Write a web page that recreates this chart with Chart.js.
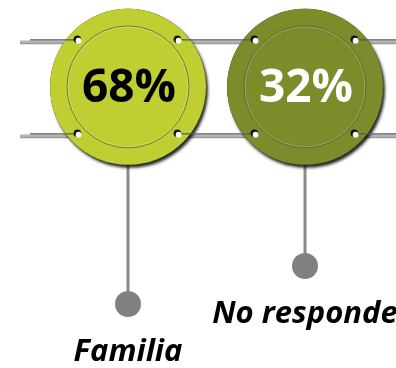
<!DOCTYPE html>
<html>
<head>
<meta charset="utf-8">
<script src="https://cdn.jsdelivr.net/npm/chart.js@4"></script>
<style>
  html, body { margin: 0; padding: 0; background: #ffffff; }
  #wrap { width: 396px; height: 368px; }
</style>
</head>
<body>
<div id="wrap"><canvas id="c" width="396" height="368"></canvas></div>
<script>
// ---- data ----
const categories = ['Familia', 'No responde'];
const percentages = [68, 32];
const valueLabels = percentages.map(v => v + '%');

// ---- style / layout (not data) ----
const fillColors = ['#bfcf31', '#7c8c2a'];
const valueTextColors = ['#000000', '#ffffff'];
const circleRow = 23.6;          // y scale units (0..100, top to bottom)
const dotRows = [82.6, 72.3];    // staggered label anchors
const R = 78, innerR = 61;
const screwDX = 50, screwDY = 47;

const infographic = {
  id: 'infographic',
  beforeDatasetsDraw(chart) {
    const ctx = chart.ctx;
    const xs = chart.scales.x, ys = chart.scales.y;
    const cy = ys.getPixelForValue(circleRow);
    const W = chart.width;
    ctx.save();
    // stems behind circles
    categories.forEach((c, i) => {
      const x = xs.getPixelForValue(i);
      const dy = ys.getPixelForValue(dotRows[i]);
      ctx.strokeStyle = '#8a8a8a';
      ctx.lineWidth = 3;
      ctx.beginPath(); ctx.moveTo(x, cy); ctx.lineTo(x, dy); ctx.stroke();
    });
    // gray rails behind circles
    [cy - screwDY, cy + screwDY].forEach(ry => {
      ctx.strokeStyle = '#b4b4b4';
      ctx.lineWidth = 1.5;
      ctx.beginPath(); ctx.moveTo(20, ry + 1.5); ctx.lineTo(W, ry + 1.5); ctx.stroke();
      ctx.strokeStyle = '#9a9a9a';
      ctx.lineWidth = 2;
      ctx.beginPath(); ctx.moveTo(20, ry + 3.5); ctx.lineTo(W, ry + 3.5); ctx.stroke();
    });
    // shadows
    categories.forEach((c, i) => {
      const x = xs.getPixelForValue(i);
      ctx.save();
      ctx.shadowColor = 'rgba(0,0,0,0.85)';
      ctx.shadowBlur = 3;
      ctx.shadowOffsetX = 2;
      ctx.shadowOffsetY = 3;
      ctx.fillStyle = '#222';
      ctx.beginPath(); ctx.arc(x, cy, R, 0, Math.PI * 2); ctx.fill();
      ctx.restore();
    });
    ctx.restore();
  },
  afterDatasetsDraw(chart) {
    const ctx = chart.ctx;
    const xs = chart.scales.x, ys = chart.scales.y;
    const cy = ys.getPixelForValue(circleRow);
    const W = chart.width;
    ctx.save();
    const centers = categories.map((c, i) => xs.getPixelForValue(i));
    // inner ring
    centers.forEach(x => {
      ctx.strokeStyle = 'rgba(90,90,60,0.75)';
      ctx.lineWidth = 1;
      ctx.beginPath(); ctx.arc(x, cy, innerR, 0, Math.PI * 2); ctx.stroke();
      ctx.strokeStyle = 'rgba(255,255,255,0.25)';
      ctx.beginPath(); ctx.arc(x, cy, innerR - 1, 0, Math.PI * 2); ctx.stroke();
    });
    // dark thin rail from screws outward
    [cy - screwDY, cy + screwDY].forEach(ry => {
      ctx.strokeStyle = '#5a5a5a';
      ctx.lineWidth = 1.3;
      const segs = [[30, centers[0] - screwDX]];
      for (let i = 0; i < centers.length - 1; i++) segs.push([centers[i] + screwDX, centers[i + 1] - screwDX]);
      segs.push([centers[centers.length - 1] + screwDX, W]);
      segs.forEach(s => { ctx.beginPath(); ctx.moveTo(s[0], ry); ctx.lineTo(s[1], ry); ctx.stroke(); });
    });
    // screws
    centers.forEach(x => {
      [[-1, -1], [1, -1], [-1, 1], [1, 1]].forEach(([sx, sy]) => {
        const px = x + sx * screwDX, py = cy + sy * screwDY;
        ctx.fillStyle = '#111';
        ctx.beginPath(); ctx.arc(px - 0.6, py - 0.6, 3.8, 0, Math.PI * 2); ctx.fill();
        ctx.fillStyle = '#ffffff';
        ctx.beginPath(); ctx.arc(px + 0.6, py + 0.8, 2.9, 0, Math.PI * 2); ctx.fill();
      });
    });
    // value text
    ctx.textAlign = 'center';
    ctx.textBaseline = 'alphabetic';
    ctx.font = 'bold 46px "Open Sans", sans-serif';
    centers.forEach((x, i) => {
      ctx.fillStyle = valueTextColors[i];
      ctx.fillText(valueLabels[i], x + 1, cy + 15);
    });
    // label dots and names
    centers.forEach((x, i) => {
      const dy = ys.getPixelForValue(dotRows[i]);
      ctx.fillStyle = '#808080';
      ctx.beginPath(); ctx.arc(x, dy, 13, 0, Math.PI * 2); ctx.fill();
      ctx.fillStyle = '#000000';
      ctx.font = 'italic bold 31px "Open Sans", sans-serif';
      ctx.fillText(categories[i], x, dy + 57);
    });
    ctx.restore();
  }
};

new Chart(document.getElementById('c'), {
  type: 'scatter',
  data: {
    labels: categories,
    datasets: [{
      data: categories.map(c => ({ x: c, y: circleRow })),
      pointRadius: R,
      pointHoverRadius: R,
      pointBackgroundColor: fillColors,
      pointBorderWidth: 0,
      pointBorderColor: 'rgba(0,0,0,0)',
      clip: false
    }]
  },
  options: {
    responsive: false,
    animation: false,
    events: [],
    layout: { autoPadding: false, padding: { left: 39.5, right: 2.5, top: 0, bottom: 0 } },
    scales: {
      x: { type: 'category', labels: categories, offset: true, display: false },
      y: { type: 'linear', min: 0, max: 100, reverse: true, display: false }
    },
    plugins: { legend: { display: false }, tooltip: { enabled: false } }
  },
  plugins: [infographic]
});
</script>
</body>
</html>
